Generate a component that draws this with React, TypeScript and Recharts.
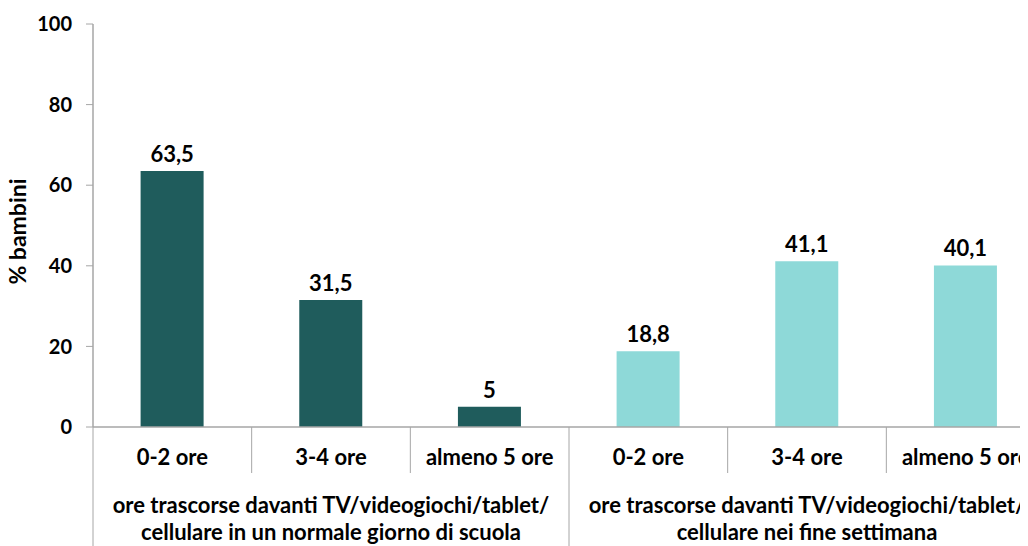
import { BarChart, Bar, XAxis, YAxis, Cell, LabelList } from "recharts";

const categories = ["0-2 ore", "3-4 ore", "almeno 5 ore", "0-2 ore", "3-4 ore", "almeno 5 ore"];
const values = [63.5, 31.5, 5, 18.8, 41.1, 40.1];
const groupIndex = [0, 0, 0, 1, 1, 1];
const groupLabels = [
  ["ore trascorse davanti TV/videogiochi/tablet/", "cellulare in un normale giorno di scuola"],
  ["ore trascorse davanti TV/videogiochi/tablet/", "cellulare nei fine settimana"],
];
const yTicks = [0, 20, 40, 60, 80, 100];

const colors = ["#1f5c5c", "#8ed9d8"];
const axisGray = "#a6a6a6";
const font = "Lato, 'Open Sans', sans-serif";

const data = categories.map((name, i) => ({
  key: `c${i}`,
  name,
  value: values[i],
  group: groupIndex[i],
}));

function CategoryTick(props: any) {
  const { x, y, payload, index } = props;
  const half = payload.offset ?? 0;
  const item = data[index];
  const isGroupStart = index === 0 || item.group !== data[index - 1].group;
  const isGroupMiddle = index > 0 && index < data.length - 1 && data[index - 1].group === item.group && data[index + 1].group === item.group;
  return (
    <g>
      <line x1={x - half} x2={x - half} y1={y} y2={isGroupStart ? y + 119 : y + 46} stroke={axisGray} strokeWidth={1} />
      {index === data.length - 1 && (
        <line x1={x + half} x2={x + half} y1={y} y2={y + 119} stroke={axisGray} strokeWidth={1} />
      )}
      <text x={x} y={y + 38} textAnchor="middle" fontFamily={font} fontWeight={700} fontSize={22} fill="#000">
        {item.name}
      </text>
      {isGroupMiddle &&
        groupLabels[item.group].map((line, j) => (
          <text key={j} x={x} y={y + 86 + j * 27} textAnchor="middle" fontFamily={font} fontWeight={700} fontSize={22} fill="#000">
            {line}
          </text>
        ))}
    </g>
  );
}

export default function App() {
  return (
    <div style={{ width: 1020, height: 538, overflow: "hidden" }}>
      <BarChart
        width={1040}
        height={538}
        data={data}
        margin={{ top: 16, right: 3, bottom: 0, left: 0 }}
        barCategoryGap="30%"
      >
        <XAxis
          dataKey="key"
          height={119}
          interval={0}
          tickLine={false}
          tickSize={0}
          tickMargin={0}
          axisLine={{ stroke: axisGray, strokeWidth: 1.5 }}
          tick={<CategoryTick />}
        />
        <YAxis
          width={85}
          domain={[0, 100]}
          ticks={yTicks}
          interval={0}
          tickSize={7}
          tickMargin={14}
          axisLine={{ stroke: axisGray, strokeWidth: 1.5 }}
          tickLine={{ stroke: axisGray }}
          tick={{ fontFamily: font, fontWeight: 700, fontSize: 20, fill: "#000" }}
          label={{
            value: "% bambini",
            angle: -90,
            position: "insideLeft",
            offset: 10,
            dy: 6,
            style: { textAnchor: "middle", fontFamily: font, fontWeight: 700, fontSize: 23, fill: "#000" },
          }}
        />
        <Bar dataKey="value" isAnimationActive={false}>
          {data.map((d) => (
            <Cell key={d.key} fill={colors[d.group]} />
          ))}
          <LabelList
            dataKey="value"
            position="top"
            offset={9}
            formatter={(v: any) => String(v).replace(".", ",")}
            style={{ fontFamily: font, fontWeight: 700, fontSize: 22, fill: "#000" }}
          />
        </Bar>
      </BarChart>
    </div>
  );
}
